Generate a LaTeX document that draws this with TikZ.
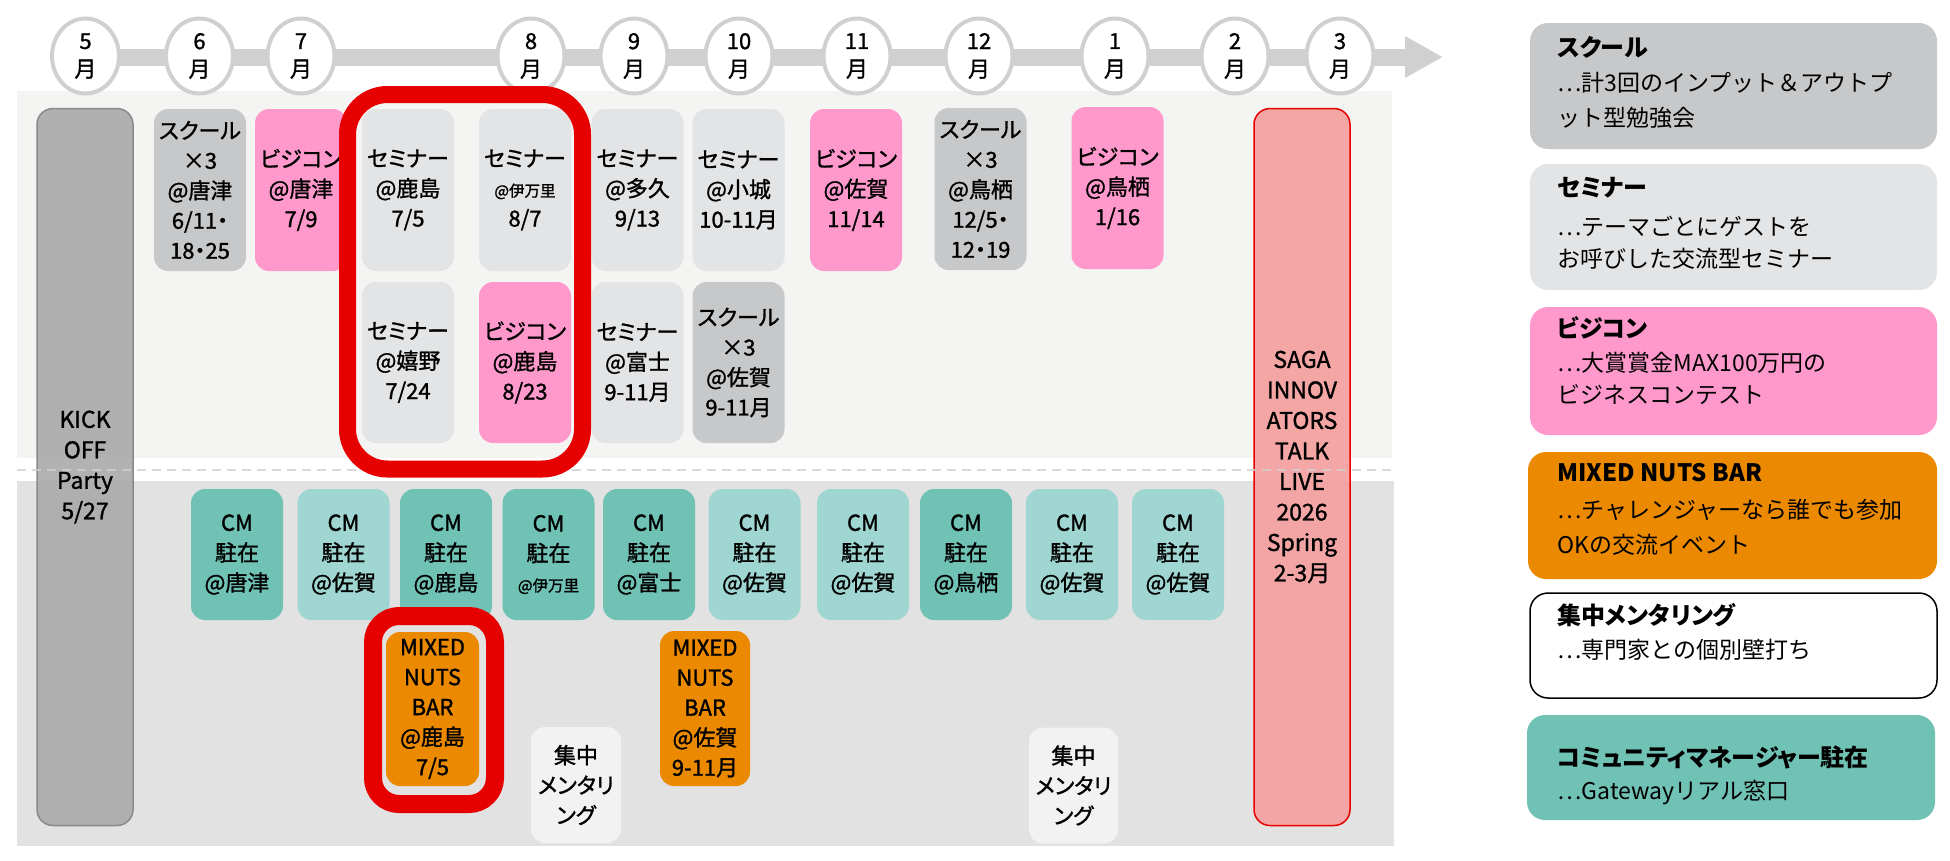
\documentclass[tikz,border=0pt]{standalone}
\usepackage{fontspec}
\setmainfont{Noto Sans CJK JP}[RawFeature={+palt}]
\newfontfamily\jpmed{Noto Sans CJK JP}[RawFeature={+palt}, FakeBold=1.3]
\newfontfamily\jpplain{Noto Sans CJK JP}
\usetikzlibrary{shapes.geometric,arrows.meta}
\definecolor{cSchool}{HTML}{C7C8CA}
\definecolor{cSem}{HTML}{E3E4E6}
\definecolor{cPink}{HTML}{FF99CC}
\definecolor{cOrange}{HTML}{EB8A00}
\definecolor{cTealD}{HTML}{70C2B5}
\definecolor{cTealL}{HTML}{9FD6D1}
\definecolor{cKick}{HTML}{ABABAB}
\definecolor{cKickB}{HTML}{8A8A8A}
\definecolor{cSaga}{HTML}{F4A09F}
\definecolor{cRed}{HTML}{E60000}
\definecolor{cBgU}{HTML}{F4F4F3}
\definecolor{cBgL}{HTML}{E2E2E2}
\definecolor{cMent}{HTML}{F2F2F2}
\definecolor{cLine}{HTML}{D0D0D0}
\tikzset{
  evbox/.style={rectangle, rounded corners=14, inner sep=0pt, align=center,
    font=\jpmed\fontsize{22}{30}\selectfont, text=black, minimum width=92},
  rowbox/.style={evbox, minimum height=162},
  cmbox/.style={evbox, minimum height=131},
  schoolfill/.style={fill=cSchool},
  semfill/.style={fill=cSem},
  bizfill/.style={fill=cPink},
  nutsfill/.style={fill=cOrange},
  tealDfill/.style={fill=cTealD},
  tealLfill/.style={fill=cTealL},
  mentbox/.style={evbox, fill=cMent, minimum width=90, minimum height=116},
  monthnode/.style={ellipse, draw=cLine, line width=4, fill=white, minimum width=67,
    minimum height=75, inner sep=0pt, align=center, font=\jpmed\fontsize{22}{28}\selectfont},
  bigbox/.style={rectangle, rounded corners=16, inner sep=0pt, align=center,
    minimum width=96, minimum height=717, font=\jpmed\fontsize{23}{30.5}\selectfont},
  redframe/.style={draw=cRed},
  legbox/.style={rectangle, rounded corners=18},
  legtitle/.style={anchor=west, inner sep=0pt, font=\fontsize{24}{30}\selectfont\bfseries},
  legdesc/.style={anchor=west, inner sep=0pt, font=\jpplain\fontsize{23}{30}\selectfont}
}
\newcommand{\smallloc}[1]{{\fontsize{15.5}{30}\selectfont #1}}
\begin{document}
\begin{tikzpicture}[x=1pt,y=-1pt]
\useasboundingbox (0,0) rectangle (1950,860);
% backgrounds
\fill[cBgU] (17,91) rectangle (1392,458);
\fill[cBgL] (17,481) rectangle (1394,846);
% timeline bar
\coordinate (bar0) at (85,57);
\coordinate (bar1) at (1443,57);
\draw[cLine, line width=17, -{Triangle[width=39pt,length=38pt]}] (bar0) -- (bar1);
% months
\node[monthnode] (m5) at (85.5,56) {5\\月};
\node[monthnode] (m6) at (199.5,56) {6\\月};
\node[monthnode] (m7) at (301,56) {7\\月};
\node[monthnode] (m8) at (531,56) {8\\月};
\node[monthnode] (m9) at (634,56) {9\\月};
\node[monthnode] (m10) at (739,56) {10\\月};
\node[monthnode] (m11) at (857,56) {11\\月};
\node[monthnode] (m12) at (979,56) {12\\月};
\node[monthnode] (m1) at (1115,56) {1\\月};
\node[monthnode] (m2) at (1235,56) {2\\月};
\node[monthnode] (m3) at (1340,56) {3\\月};
% big boxes
\node[bigbox, fill=cKick, fill opacity=0.92, text opacity=1, draw=cKickB, line width=1.5] (kick) at (85,467) {KICK\\OFF\\Party\\5/27};
\node[bigbox, fill=cSaga, fill opacity=0.92, text opacity=1, draw=cRed, line width=1.5] (saga) at (1302,467) {SAGA\\INNOV\\ATORS\\TALK\\LIVE\\2026\\Spring\\2-3月};
% dashed divider
\coordinate (dl0) at (17,470);
\coordinate (dl1) at (1392,470);
\draw[cLine, line width=2, dash pattern=on 9pt off 6pt, opacity=0.8] (dl0) -- (dl1);
% row 1
\node[rowbox, schoolfill] (e1) at (200,190) {スクール\\×3\\@唐津\\6/11・\\18・25};
\node[rowbox, bizfill] (e2) at (301,190) {ビジコン\\@唐津\\7/9};
\node[rowbox, semfill] (e3) at (408,190) {セミナー\\@鹿島\\7/5};
\node[rowbox, semfill] (e4) at (525,190) {セミナー\\\smallloc{@伊万里}\\8/7};
\node[rowbox, semfill] (e5) at (637.5,190) {セミナー\\@多久\\9/13};
\node[rowbox, semfill] (e6) at (738.5,190) {セミナー\\@小城\\10-11月};
\node[rowbox, bizfill] (e7) at (856,190) {ビジコン\\@佐賀\\11/14};
\node[rowbox, schoolfill] (e8) at (980.5,189) {スクール\\×3\\@鳥栖\\12/5・\\12・19};
\node[rowbox, bizfill] (e9) at (1117.5,188) {ビジコン\\@鳥栖\\1/16};
% row 2
\node[rowbox, semfill, minimum height=161] (f1) at (408,362.5) {セミナー\\@嬉野\\7/24};
\node[rowbox, bizfill, minimum height=161] (f2) at (525,362.5) {ビジコン\\@鹿島\\8/23};
\node[rowbox, semfill, minimum height=161] (f3) at (637.5,362.5) {セミナー\\@富士\\9-11月};
\node[rowbox, schoolfill, minimum height=161] (f4) at (738.5,362.5) {スクール\\×3\\@佐賀\\9-11月};
% CM row
\node[cmbox, tealDfill] (c1) at (237,554.5) {CM\\駐在\\@唐津};
\node[cmbox, tealLfill] (c2) at (343.5,554.5) {CM\\駐在\\@佐賀};
\node[cmbox, tealDfill] (c3) at (446,554.5) {CM\\駐在\\@鹿島};
\node[cmbox, tealDfill] (c4) at (548.5,554.5) {CM\\駐在\\\smallloc{@伊万里}};
\node[cmbox, tealDfill] (c5) at (649,554.5) {CM\\駐在\\@富士};
\node[cmbox, tealLfill] (c6) at (754.5,554.5) {CM\\駐在\\@佐賀};
\node[cmbox, tealLfill] (c7) at (863,554.5) {CM\\駐在\\@佐賀};
\node[cmbox, tealDfill] (c8) at (966,554.5) {CM\\駐在\\@鳥栖};
\node[cmbox, tealLfill] (c9) at (1072,554.5) {CM\\駐在\\@佐賀};
\node[cmbox, tealLfill] (c10) at (1178,554.5) {CM\\駐在\\@佐賀};
% mixed nuts
\node[evbox, nutsfill, minimum width=93, minimum height=154] (n1) at (432.5,709) {MIXED\\NUTS\\BAR\\@鹿島\\7/5};
\node[evbox, nutsfill, minimum width=90, minimum height=155] (n2) at (705,708.5) {MIXED\\NUTS\\BAR\\@佐賀\\9-11月};
% mentoring
\node[mentbox] (t1) at (576,785) {集中\\メンタリ\\ング};
\node[mentbox, minimum width=89] (t2) at (1073.5,785.5) {集中\\メンタリ\\ング};
% red highlight frames
\draw[redframe, line width=17, rounded corners=40] (347.5,94.5) rectangle (582.5,469);
\draw[redframe, line width=18, rounded corners=26] (373,616) rectangle (495,804);
% legend
\node[legbox, fill=cSchool, minimum width=407, minimum height=126] (L1) at (1733.5,86) {};
\node[legtitle] (L1t) at (1557,47) {スクール};
\node[legdesc] (L1a) at (1557,83) {…計3回のインプット＆アウトプ};
\node[legdesc] (L1b) at (1557,118) {ット型勉強会};
\node[legbox, fill=cSem, minimum width=407, minimum height=126] (L2) at (1733.5,227) {};
\node[legtitle] (L2t) at (1557,188) {セミナー};
\node[legdesc] (L2a) at (1557,226) {…テーマごとにゲストを};
\node[legdesc] (L2b) at (1557,259) {お呼びした交流型セミナー};
\node[legbox, fill=cPink, minimum width=407, minimum height=128] (L3) at (1733.5,371) {};
\node[legtitle] (L3t) at (1557,328) {ビジコン};
\node[legdesc] (L3a) at (1557,363) {…大賞賞金MAX100万円の};
\node[legdesc] (L3b) at (1557,395) {ビジネスコンテスト};
\node[legbox, fill=cOrange, minimum width=409, minimum height=127] (L4) at (1732.5,515.5) {};
\node[legtitle] (L4t) at (1557,473) {MIXED NUTS BAR};
\node[legdesc] (L4a) at (1557,510) {…チャレンジャーなら誰でも参加};
\node[legdesc] (L4b) at (1557,545) {OKの交流イベント};
\node[legbox, fill=white, draw=black, line width=1.5, minimum width=407, minimum height=105] (L5) at (1733.5,645.5) {};
\node[legtitle] (L5t) at (1557,615) {集中メンタリング};
\node[legdesc] (L5a) at (1557,650) {…専門家との個別壁打ち};
\node[legbox, fill=cTealD, minimum width=408, minimum height=105] (L6) at (1731,767.5) {};
\node[legtitle] (L6t) at (1557,757) {コミュニティマネージャー駐在};
\node[legdesc] (L6a) at (1557,793) {…Gatewayリアル窓口};
\end{tikzpicture}
\end{document}
